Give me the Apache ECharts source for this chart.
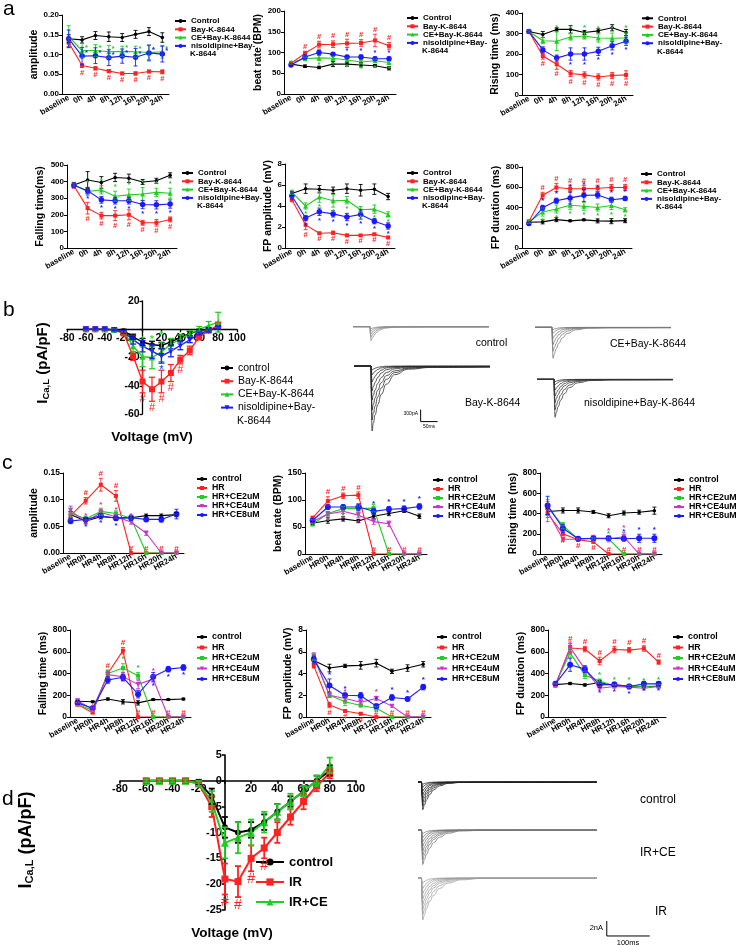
<!DOCTYPE html>
<html><head><meta charset="utf-8"><title>chart</title>
<script src="https://cdn.jsdelivr.net/npm/echarts@6/dist/echarts.min.js"></script>
<style>html,body{margin:0;padding:0;background:#fff;}#chart{width:738px;height:945px;}</style>
</head><body><div id="chart"></div>
<script>
// ================= DATA =================
// ---- panel a ----
const timeA = ['baseline','0h','4h','8h','12h','16h','20h','24h'];
const groupsA = ['Control','Bay-K-8644','CE+Bay-K-8644','nisoldipine+Bay-K-8644'];

const amplitudeA = [
  [0.140,0.137,0.148,0.145,0.143,0.151,0.158,0.143],
  [0.130,0.072,0.065,0.058,0.052,0.052,0.057,0.056],
  [0.145,0.110,0.110,0.107,0.108,0.107,0.105,0.107],
  [0.140,0.096,0.097,0.092,0.096,0.093,0.104,0.101]];
const amplitudeAErr = [
  [0.010,0.008,0.010,0.012,0.010,0.010,0.010,0.012],
  [0.010,0.005,0.004,0.004,0.003,0.004,0.003,0.005],
  [0.028,0.018,0.015,0.016,0.013,0.014,0.018,0.016],
  [0.022,0.022,0.020,0.020,0.018,0.022,0.020,0.020]];
const amplitudeAMarks = ['', ' #######', ' *******', ' *******'];

const beatRateA = [
  [72,67,64,72,72,70,68,62],
  [74,98,119,120,122,123,129,116],
  [76,85,87,86,82,77,80,76],
  [70,89,100,96,89,89,85,85]];
const beatRateAErr = [
  [3,3,3,6,5,5,3,4],
  [3,5,8,8,10,8,15,8],
  [3,4,6,5,4,4,4,3],
  [3,5,6,4,4,5,4,4]];
const beatRateAMarks = ['', ' #######', '  ******', '    ****'];

const risingA = [
  [310,295,320,320,305,313,328,305],
  [310,190,150,105,98,88,95,98],
  [310,265,262,283,288,278,277,278],
  [310,220,180,200,200,213,240,262]];
const risingAErr = [
  [8,15,8,18,10,10,15,15],
  [8,15,25,15,15,15,15,20],
  [8,15,45,15,15,20,25,25],
  [8,15,15,30,30,20,20,20]];
const risingAMarks = ['', ' #######', '  ******', '   *****'];

const fallingA = [
  [380,410,395,425,420,398,405,438],
  [375,240,195,195,200,152,152,172],
  [380,340,350,312,320,325,335,330],
  [378,345,290,285,285,262,260,265]];
const fallingAErr = [
  [15,50,35,25,25,15,15,15],
  [15,35,20,30,30,15,20,15],
  [15,25,25,30,35,40,25,30],
  [15,20,20,20,20,25,25,25]];
const fallingAMarks = ['', ' #######', ' *******', ' *******'];

const fpAmpA = [
  [5.2,5.65,5.6,5.5,5.65,5.5,5.6,4.9],
  [4.6,2.2,1.4,1.45,1.2,1.2,1.3,1.0],
  [5.3,4.0,4.85,4.5,4.55,3.65,3.7,3.2],
  [4.95,2.85,3.45,3.25,2.95,3.2,2.55,2.1]];
const fpAmpAErr = [
  [0.2,0.45,0.35,0.3,0.45,0.55,0.5,0.3],
  [0.2,0.45,0.1,0.15,0.1,0.08,0.1,0.1],
  [0.2,0.3,0.5,0.6,0.35,0.3,0.4,0.25],
  [0.3,0.25,0.35,0.3,0.35,0.45,0.25,0.3]];
const fpAmpAMarks = ['', ' #######', ' *******', ' *******'];

const fpDurA = [
  [255,258,280,268,278,268,265,270],
  [262,520,598,585,585,590,597,598],
  [258,355,385,422,412,400,420,378],
  [242,397,467,495,520,523,477,490]];
const fpDurAErr = [
  [15,20,20,8,8,20,25,20],
  [15,30,40,35,35,30,30,30],
  [15,40,40,40,40,35,40,20],
  [15,25,25,60,60,30,25,20]];
const fpDurAMarks = ['', ' #######', ' *******', ' *******'];

// ---- panel b ----
const voltB = [-60,-50,-40,-30,-20,-10,0,10,20,30,40,50,60,70,80];
const groupsB = ['control','Bay-K-8644','CE+Bay-K-8644','nisoldipine+Bay-K-8644'];
const icaB = [
  [0,0,0,-0.5,-1,-5.5,-9,-11,-11.5,-9,-6,-3,-1,0,1],
  [0,0,0,-0.5,-3,-19,-37,-42.5,-37,-31,-21.5,-15,-5.5,-1,3],
  [0,0,0,-0.5,-2,-12,-19.5,-20,-16,-10.5,-7,-3,0,2.5,5],
  [0,0,0,-0.5,-2,-7.5,-12,-15.5,-19,-15.5,-11.5,-7.5,-3,-1,1]];
const icaBErr = [
  [0.5,0.5,0.5,0.5,1,2,2.5,2.5,2,2,2,1.5,1,1,1],
  [0.5,0.5,0.5,0.5,1,3,8,8.5,8,6,3,3,2,1,2],
  [0.5,0.5,0.5,0.5,1,4,7,8,7,4,3,2,2,3,7],
  [0.5,0.5,0.5,0.5,1,3,4,5,5,4,3,2,1,1,1]];
const icaBMarks = ['', '      #####    ', '      ***      ', '        *      '];

// current traces, panel b (time in ms, current in pA)
const traceTimeB = [0,50,51,53,57,62,70,80,95,120,160,230,400];
const tracesControlB = [
  [0,0,-180,-350,-280,-214,-137,-77,-36,-12,-6,-5,-4],
  [0,0,-140,-260,-203,-148,-91,-47,-19,-8,-5,-4,-3],
  [0,0,-100,-180,-135,-95,-54,-26,-9,-5,-4,-3,-3],
  [0,0,-60,-110,-79,-52,-26,-12,-5,-3,-3,-2,-2],
  [0,0,-30,-50,-36,-24,-12,-6,-3,-2,-2,-1,-1]];
const tracesCEB = [
  [0,0,-400,-775,-660,-545,-400,-270,-155,-62,-20,-12,-10],
  [0,0,-310,-600,-500,-400,-278,-178,-95,-36,-14,-10,-9],
  [0,0,-220,-430,-352,-275,-185,-112,-53,-22,-10,-8,-7],
  [0,0,-145,-280,-224,-171,-109,-62,-29,-12,-7,-6,-5],
  [0,0,-80,-150,-115,-82,-48,-25,-10,-5,-4,-4,-3],
  [0,0,-32,-60,-44,-30,-16,-8,-4,-3,-3,-2,-2]];
const tracesBayB = [
  [0,0,-800,-1625,-1430,-1220,-965,-710,-455,-215,-80,-35,-25],
  [0,0,-680,-1350,-1181,-1000,-770,-553,-333,-165,-58,-28,-22],
  [0,0,-560,-1100,-957,-792,-600,-418,-242,-119,-44,-24,-20],
  [0,0,-430,-850,-723,-595,-434,-289,-162,-68,-25,-18,-16],
  [0,0,-320,-620,-515,-409,-285,-180,-93,-40,-18,-14,-12],
  [0,0,-210,-400,-328,-256,-172,-104,-48,-22,-12,-10,-9],
  [0,0,-115,-220,-176,-134,-86,-48,-23,-10,-7,-6,-5],
  [0,0,-55,-100,-77,-55,-32,-17,-7,-4,-3,-3,-2]];
const tracesNisoB = [
  [0,0,-480,-950,-827,-684,-518,-361,-209,-86,-30,-15,-12],
  [0,0,-390,-760,-646,-532,-388,-258,-144,-52,-20,-12,-10],
  [0,0,-300,-580,-481,-383,-267,-168,-87,-35,-14,-10,-8],
  [0,0,-215,-420,-344,-269,-181,-109,-50,-20,-10,-8,-7],
  [0,0,-140,-270,-216,-165,-105,-59,-26,-10,-6,-5,-4],
  [0,0,-72,-140,-108,-77,-45,-23,-8,-4,-3,-3,-2],
  [0,0,-32,-60,-44,-30,-16,-8,-4,-3,-3,-2,-2]];
const scaleBarB = [[196,-1090],[196,-1390],[246,-1390]]; // 300 pA / 50 ms

// ---- panel c ----
const timeC = ['baseline','HR0h','HR4h','HR8h','HR12h','HR16h','HR20h','HR24h'];
const groupsC = ['control','HR','HR+CE2uM','HR+CE4uM','HR+CE8uM'];

const amplitudeC = [
  [0.072,0.060,0.068,0.066,0.066,0.070,0.070,0.072],
  [0.070,0.098,0.128,0.107,0,0,0,0],
  [0.075,0.064,0.078,0.074,0.065,0,0,0],
  [0.080,0.058,0.076,0.068,0.058,0.037,0,0],
  [0.060,0.063,0.070,0.065,0.066,0.063,0.063,0.073]];
const amplitudeCErr = [
  [0.006,0.004,0.004,0.003,0.003,0.003,0.003,0.004],
  [0.008,0.006,0.012,0.010,0,0,0,0],
  [0.008,0.005,0.006,0.005,0.005,0,0,0],
  [0.008,0.004,0.006,0.004,0.004,0.004,0,0],
  [0.005,0.004,0.004,0.004,0.005,0.004,0.005,0.009]];
const amplitudeCMarks = ['', ' #######', '', ' ****   ', ' ***    '];

const beatRateC = [
  [57,62,65,61,70,75,80,70],
  [67,98,108,109,0,0,0,0],
  [55,75,84,84,85,0,0,0],
  [60,74,79,72,60,56,0,0],
  [62,87,87,87,79,83,84,88]];
const beatRateCErr = [
  [3,5,4,3,4,4,3,4],
  [3,8,5,6,0,0,0,0],
  [3,4,4,5,7,0,0,0],
  [3,4,4,5,5,5,0,0],
  [4,4,4,6,5,5,5,5]];
const beatRateCMarks = ['', ' #######', ' ***    ', ' ***    ', '    ****'];

const risingC = [
  [420,430,430,415,378,405,413,428],
  [400,200,140,120,0,0,0,0],
  [460,280,150,150,150,0,0,0],
  [420,145,145,155,150,170,0,0],
  [480,255,150,155,155,150,155,155]];
const risingCErr = [
  [30,25,25,15,20,20,20,35],
  [40,20,10,10,0,0,0,0],
  [80,30,10,10,10,0,0,0],
  [100,15,10,30,30,40,0,0],
  [90,40,15,20,20,20,40,40]];
const risingCMarks = ['', ' #######', '    *   ', '    **  ', '     ***'];

const fallingC = [
  [145,140,165,140,130,160,160,165],
  [115,40,400,610,0,0,0,0],
  [120,60,400,450,380,0,0,0],
  [150,70,390,370,300,350,0,0],
  [130,80,340,365,210,370,440,455]];
const fallingCErr = [
  [10,8,10,20,20,8,8,8],
  [15,8,30,30,0,0,0,0],
  [15,8,30,40,30,0,0,0],
  [15,10,30,40,40,30,0,0],
  [15,10,30,30,35,40,25,25]];
const fallingCMarks = ['', ' #######', '   **   ', '     *  ', '     ***'];

const fpAmpC = [
  [5.2,4.5,4.7,4.75,4.95,4.2,4.5,4.85],
  [4.7,1.1,0.55,0.3,0,0,0,0],
  [5.5,2.0,1.4,1.05,0.8,0,0,0],
  [5.6,2.0,1.7,1.35,1.7,1.0,0,0],
  [5.3,2.9,2.0,1.95,1.0,1.8,1.65,2.75]];
const fpAmpCErr = [
  [0.3,0.35,0.15,0.35,0.35,0.2,0.3,0.25],
  [0.2,0.25,0.1,0.1,0,0,0,0],
  [0.3,0.2,0.35,0.1,0.15,0,0,0],
  [0.3,0.2,0.2,0.15,0.2,0.1,0,0],
  [0.3,0.6,0.2,0.3,0.2,0.25,0.15,0.25]];
const fpAmpCMarks = ['', ' #######', '', '  * *   ', ' ** ****'];

const fpDurC = [
  [298,308,295,318,290,285,280,280],
  [290,635,625,515,620,615,630,505],
  [300,590,385,330,285,285,280,285],
  [295,640,440,265,280,275,265,280],
  [305,480,440,295,300,280,305,305]];
const fpDurCErr = [
  [10,10,10,15,10,10,10,10],
  [15,40,25,35,30,25,25,20],
  [15,40,30,20,15,15,15,15],
  [15,50,30,15,15,15,15,15],
  [15,60,30,25,20,20,20,20]];
const fpDurCMarks = ['', ' #######', '   *****', '', '   *****'];

// ---- panel d ----
const voltD = [-60,-50,-40,-30,-20,-10,0,10,20,30,40,50,60,70,80];
const groupsD = ['control','IR','IR+CE'];
const icaD = [
  [0,0,0,0,-0.3,-3,-9,-10,-9.5,-8,-6,-4,-2,0,2],
  [0,0,0,0,-0.5,-5,-19,-19.5,-15,-13,-10,-7,-4,-1,1.5],
  [0,0,0,0,-0.5,-4,-12,-11,-10,-8,-6,-4,-2,0,3]];
const icaDErr = [
  [0.3,0.3,0.3,0.3,0.5,1.5,2,2,1.5,1.5,1.5,1,1,1,1],
  [0.3,0.3,0.3,0.3,0.5,2,3,3,2.5,2,2,1.5,1.5,1,1],
  [0.3,0.3,0.3,0.3,0.5,2,3,3,2.5,2,1.5,1.5,1,1,1.5]];
const icaDMarks = ['', '      ####     ', ''];

// current traces, panel d (time in ms, current in nA)
const traceTimeD = [0,8,9,11,15,20,27,36,50,70,100,150,250,416];
const tracesControlD = [
  [0,0,-1.9,-3.7,-3.03,-2.37,-1.67,-1.07,-0.52,-0.19,-0.06,-0.03,-0.02,-0.02],
  [0,0,-1.6,-3.2,-2.56,-1.95,-1.31,-0.8,-0.35,-0.14,-0.04,-0.02,-0.02,-0.02],
  [0,0,-1.4,-2.7,-2.1,-1.54,-1.0,-0.57,-0.25,-0.09,-0.03,-0.02,-0.02,-0.02],
  [0,0,-1.1,-2.2,-1.69,-1.21,-0.75,-0.42,-0.18,-0.06,-0.03,-0.02,-0.02,-0.02],
  [0,0,-0.9,-1.7,-1.26,-0.85,-0.49,-0.26,-0.1,-0.04,-0.02,-0.02,-0.02,-0.02],
  [0,0,-0.6,-1.2,-0.86,-0.56,-0.31,-0.16,-0.06,-0.03,-0.02,-0.02,-0.02,-0.02],
  [0,0,-0.35,-0.7,-0.47,-0.29,-0.14,-0.06,-0.03,-0.02,-0.02,-0.02,-0.02,-0.02],
  [0,0,-0.15,-0.3,-0.2,-0.12,-0.06,-0.03,-0.02,-0.02,-0.02,-0.01,-0.01,-0.01]];
const tracesIRCED = [
  [0,0,-2.3,-4.6,-3.91,-3.22,-2.44,-1.7,-0.97,-0.43,-0.13,-0.04,-0.03,-0.03],
  [0,0,-2.0,-4.0,-3.32,-2.64,-1.92,-1.28,-0.68,-0.27,-0.07,-0.03,-0.03,-0.03],
  [0,0,-1.7,-3.4,-2.79,-2.18,-1.53,-0.99,-0.48,-0.18,-0.05,-0.03,-0.02,-0.02],
  [0,0,-1.4,-2.8,-2.24,-1.71,-1.15,-0.7,-0.31,-0.11,-0.04,-0.02,-0.02,-0.02],
  [0,0,-1.1,-2.2,-1.69,-1.21,-0.75,-0.42,-0.16,-0.06,-0.03,-0.02,-0.02,-0.02],
  [0,0,-0.8,-1.6,-1.18,-0.8,-0.46,-0.23,-0.08,-0.03,-0.02,-0.02,-0.02,-0.02],
  [0,0,-0.5,-1.0,-0.72,-0.47,-0.26,-0.13,-0.05,-0.02,-0.02,-0.02,-0.02,-0.02],
  [0,0,-0.25,-0.5,-0.34,-0.2,-0.1,-0.05,-0.02,-0.02,-0.01,-0.01,-0.01,-0.01]];
const tracesIRD = [
  [0,0,-2.8,-5.6,-4.87,-4.03,-3.14,-2.3,-1.4,-0.67,-0.24,-0.06,-0.04,-0.04],
  [0,0,-2.5,-4.9,-4.17,-3.43,-2.6,-1.81,-1.03,-0.46,-0.14,-0.04,-0.03,-0.03],
  [0,0,-2.1,-4.2,-3.49,-2.77,-2.02,-1.34,-0.71,-0.29,-0.07,-0.03,-0.03,-0.03],
  [0,0,-1.8,-3.5,-2.87,-2.24,-1.58,-1.02,-0.49,-0.18,-0.05,-0.03,-0.02,-0.02],
  [0,0,-1.4,-2.8,-2.24,-1.71,-1.15,-0.7,-0.31,-0.11,-0.04,-0.02,-0.02,-0.02],
  [0,0,-1.05,-2.1,-1.62,-1.16,-0.71,-0.4,-0.16,-0.05,-0.03,-0.02,-0.02,-0.02],
  [0,0,-0.7,-1.4,-1.04,-0.7,-0.41,-0.2,-0.07,-0.03,-0.02,-0.02,-0.02,-0.02],
  [0,0,-0.35,-0.7,-0.47,-0.29,-0.14,-0.06,-0.03,-0.02,-0.02,-0.02,-0.02,-0.02]];
const scaleBarD = [[439,-5.73],[439,-7.73],[539,-7.73]]; // 2 nA / 100 ms

// ================= STYLE / BUILD =================
const FONT = "'Liberation Sans', Arial, Helvetica, sans-serif";
const BLACK = '#000000', RED = '#ff2222', GREEN = '#22cc22', BLUE = '#1a1aff', PURPLE = '#cc33cc';
const stylesA = [
  {color: BLACK, symbol: 'circle', size: 3.5},
  {color: RED, symbol: 'rect', size: 4},
  {color: GREEN, symbol: 'triangle', size: 5},
  {color: BLUE, symbol: 'circle', size: 5.5}];
const stylesC = [
  {color: BLACK, symbol: 'circle', size: 3.5},
  {color: RED, symbol: 'rect', size: 4},
  {color: GREEN, symbol: 'rect', size: 4},
  {color: PURPLE, symbol: 'triangle', size: 5, rot: 180},
  {color: BLUE, symbol: 'circle', size: 6}];

const option = {animation: false, backgroundColor: '#fff', textStyle: {fontFamily: FONT},
  grid: [], xAxis: [], yAxis: [], series: [], legend: [], graphic: []};

function pushGrid(g) {
  g.containLabel = false;
  g.outerBoundsMode = 'none';
  option.grid.push(g);
}

function gtext(x, y, s, fs, weight, align, color) {
  option.graphic.push({type: 'text', x: x, y: y, silent: true, z: 50,
    style: {text: s, font: (weight || 'normal') + ' ' + fs + 'px ' + FONT, fill: color || '#000',
      textAlign: align || 'left', textVerticalAlign: 'middle', align: align || 'left', verticalAlign: 'middle'}});
}

function gIcaTitle(x, y, fs, fsSub) {
  option.graphic.push({type: 'text', x: x, y: y, rotation: Math.PI / 2, silent: true, z: 50,
    style: {text: '{i|I}{s|Ca,L}{i| (pA/pF)}', fill: '#000',
      font: 'bold ' + fs + 'px ' + FONT,
      textAlign: 'center', textVerticalAlign: 'middle', align: 'center', verticalAlign: 'middle',
      rich: {
        i: {fontSize: fs, fontWeight: 'bold', fontFamily: FONT, fill: '#000', color: '#000'},
        s: {fontSize: fsSub, fontWeight: 'bold', fontFamily: FONT, fill: '#000', color: '#000',
          verticalAlign: 'bottom', padding: [fs * 0.45, 0, 0, 0]}}}});
}

function errSeries(gi, pts, color, cap, lw) {
  return {type: 'custom', xAxisIndex: gi, yAxisIndex: gi, silent: true, z: 4, clip: false,
    data: pts, encode: {x: 0, y: 1},
    renderItem: function (params, api) {
      const x = api.value(0), v = api.value(1), e = api.value(2);
      if (!e) return null;
      const t = api.coord([x, v + e]), b = api.coord([x, v - e]);
      const st = {stroke: color, lineWidth: lw};
      return {type: 'group', children: [
        {type: 'line', shape: {x1: t[0], y1: t[1], x2: b[0], y2: b[1]}, style: st},
        {type: 'line', shape: {x1: t[0] - cap, y1: t[1], x2: t[0] + cap, y2: t[1]}, style: st},
        {type: 'line', shape: {x1: b[0] - cap, y1: b[1], x2: b[0] + cap, y2: b[1]}, style: st}]};
    }};
}

function markSeries(gi, pts, marks, pos, color, fs, weight) {
  return {type: 'custom', xAxisIndex: gi, yAxisIndex: gi, silent: true, z: 6, clip: false,
    data: pts, encode: {x: 0, y: 1},
    renderItem: function (params, api) {
      const m = marks.charAt(params.dataIndex);
      if (!m || m === ' ') return null;
      const x = api.value(0), v = api.value(1), e = api.value(2);
      let P = pos, p, va, al = 'center';
      if (P === 'b' && v === 0) P = 'a';
      if (P === 'b') { p = api.coord([x, v - e]); p[1] += 1; va = 'top'; }
      else if (P === 'a') { p = api.coord([x, v + e]); p[1] -= 0.5; va = 'bottom'; }
      else { p = api.coord([x, v]); p[0] += 3; p[1] -= 3; al = 'left'; va = 'middle'; }
      return {type: 'text', x: p[0], y: p[1], style: {text: m, fill: color,
        font: (weight || 'bold') + ' ' + fs + 'px ' + FONT,
        textAlign: al, textVerticalAlign: va, align: al, verticalAlign: va}};
    }};
}

function addCat(c) {
  const gi = option.grid.length;
  pushGrid({left: c.left, top: c.top, width: c.width, height: c.height});
  option.xAxis.push({type: 'category', gridIndex: gi, data: c.cats, boundaryGap: true,
    axisLine: {lineStyle: {color: '#000', width: 1}},
    axisTick: {alignWithLabel: true, length: 3, lineStyle: {color: '#000', width: 1}},
    axisLabel: {interval: 0, rotate: c.rot, margin: 3, fontSize: c.fsX, fontWeight: 'bold', color: '#000', fontFamily: FONT}});
  option.yAxis.push({type: 'value', gridIndex: gi, min: c.min, max: c.max, interval: c.step,
    splitLine: {show: false},
    axisLine: {show: true, onZero: false, lineStyle: {color: '#000', width: 1}},
    axisTick: {show: true, length: 3, lineStyle: {color: '#000', width: 1}},
    axisLabel: {formatter: c.fmt, margin: 3, fontSize: c.fsY, fontWeight: 'bold', color: '#000', fontFamily: FONT},
    name: c.title, nameLocation: 'middle', nameRotate: 90, nameGap: c.gap,
    nameTextStyle: {fontSize: c.fsT, fontWeight: 'bold', color: '#000', fontFamily: FONT}});
  const names = [], disp = {};
  c.groups.forEach(function (g, k) {
    const nm = g + '@' + gi;
    names.push(nm);
    disp[nm] = c.display[k];
    const st = c.styles[k];
    const vals = c.values[k], errs = c.errors[k];
    const pts = vals.map(function (v, i) { return [i, v, errs[i]]; });
    option.series.push({type: 'line', name: nm, xAxisIndex: gi, yAxisIndex: gi, data: vals,
      symbol: st.symbol, symbolSize: st.size, symbolRotate: st.rot || 0, showAllSymbol: true,
      lineStyle: {color: st.color, width: 1.1}, itemStyle: {color: st.color}, z: 3, silent: true});
    option.series.push(errSeries(gi, pts, st.color, 2, 0.9));
    if (c.marks && c.marks[k]) option.series.push(markSeries(gi, pts, c.marks[k], c.mpos[k], st.color, c.markFs));
  });
  const L = c.lg;
  option.legend.push({orient: 'vertical', left: L.left, top: L.top, padding: 0, itemGap: L.gap,
    itemWidth: L.iw, itemHeight: L.ih, selectedMode: false, data: names,
    formatter: function (n) { return disp[n]; },
    textStyle: {fontSize: L.fs, lineHeight: L.lh, fontWeight: 'bold', color: '#000', fontFamily: FONT}});
  if (c.cont) {
    const y = L.top + L.lh / 2 + (c.groups.length) * (L.lh + L.gap);
    gtext(L.left + L.iw + 5, y, c.cont, L.fs, 'bold');
  }
}

function addTraces(c) {
  const gi = option.grid.length;
  pushGrid({left: c.left, top: c.top, width: c.width, height: c.height});
  option.xAxis.push({type: 'value', gridIndex: gi, min: 0, max: c.xmax, show: false});
  option.yAxis.push({type: 'value', gridIndex: gi, min: c.ymin, max: c.ymax, show: false});
  c.curves.forEach(function (cv) {
    option.series.push({type: 'line', xAxisIndex: gi, yAxisIndex: gi, silent: true, z: 2,
      data: c.time.map(function (t, i) { return [t, cv[i]]; }), showSymbol: false, symbol: 'none',
      smooth: 0.5, smoothMonotone: 'x', lineStyle: {color: c.color, width: c.lw}});
  });
  if (c.bar) {
    option.series.push({type: 'line', xAxisIndex: gi, yAxisIndex: gi, silent: true, z: 2,
      data: c.bar, showSymbol: false, symbol: 'none', lineStyle: {color: '#000', width: 1}});
  }
}

function addIV(c) {
  const gi = option.grid.length;
  pushGrid({left: c.left, top: c.top, width: c.width, height: c.height});
  const ax = {color: '#000', width: c.alw};
  // put both axes through the origin by shifting them inwards from the grid edges
  const xShift = c.height * (0 - c.ymin) / (c.ymax - c.ymin);
  const yShift = c.width * (0 - c.xmin) / (c.xmax - c.xmin);
  option.xAxis.push({type: 'value', gridIndex: gi, min: c.xmin, max: c.xmax, interval: c.xstep,
    position: 'bottom', offset: -xShift,
    splitLine: {show: false}, axisLine: {onZero: false, lineStyle: ax},
    axisTick: {show: true, length: 3, lineStyle: ax},
    axisLabel: {formatter: function (v) { return v === 0 ? '' : String(v); }, margin: 3, fontSize: c.fsX,
      fontWeight: 'bold', color: '#000', fontFamily: FONT}});
  option.yAxis.push({type: 'value', gridIndex: gi, min: c.ymin, max: c.ymax, interval: c.ystep,
    position: 'left', offset: -yShift,
    splitLine: {show: false}, axisLine: {show: true, onZero: false, lineStyle: ax},
    axisTick: {show: true, length: 3, lineStyle: ax},
    axisLabel: {formatter: c.yfmt, margin: 3, fontSize: c.fsY, fontWeight: 'bold', color: '#000', fontFamily: FONT}});
  const names = [], disp = {};
  c.groups.forEach(function (g, k) {
    const nm = g + '@' + gi;
    names.push(nm);
    disp[nm] = c.display[k];
    const st = c.styles[k];
    const vals = c.values[k], errs = c.errors[k];
    const pts = c.volt.map(function (v, i) { return [v, vals[i], errs[i]]; });
    option.series.push({type: 'line', name: nm, xAxisIndex: gi, yAxisIndex: gi,
      data: c.volt.map(function (v, i) { return [v, vals[i]]; }),
      symbol: st.symbol, symbolSize: st.size, symbolRotate: st.rot || 0, showAllSymbol: true,
      lineStyle: {color: st.color, width: c.lw}, itemStyle: {color: st.color}, z: 3, silent: true});
    option.series.push(errSeries(gi, pts, st.color, 3, c.lw * 0.9));
    if (c.marks && c.marks[k]) option.series.push(markSeries(gi, pts, c.marks[k], c.mpos[k], st.color, c.markFs, 'normal'));
  });
  const L = c.lg;
  option.legend.push({orient: 'vertical', left: L.left, top: L.top, padding: 0, itemGap: L.gap,
    itemWidth: L.iw, itemHeight: L.ih, selectedMode: false, data: names,
    formatter: function (n) { return disp[n]; },
    textStyle: {fontSize: L.fs, lineHeight: L.lh, fontWeight: L.fw, color: '#000', fontFamily: FONT}});
  if (c.cont) {
    const y = L.top + L.lh / 2 + (c.groups.length) * (L.lh + L.gap);
    gtext(L.left + L.iw + 5, y, c.cont, L.fs, L.fw);
  }
  gtext(c.xt[0], c.xt[1], 'Voltage (mV)', c.fsXT, 'bold', 'center');
  gIcaTitle(c.yt[0], c.yt[1], c.fsYT, c.fsSub);
}

// ---------- panel a ----------
const dispA = ['Control', 'Bay-K-8644', 'CE+Bay-K-8644', 'nisoldipine+Bay-'];
const dispA5 = ['Control', 'Bay-K-8644', 'CE+Bay-K-8644', 'nisodipine+Bay-'];
const mposA = {
  amp: ['', 'b', 'r', 'r'], rate: ['', 'a', 'b', 'a'], rise: ['', 'b', 'a', 'b'],
  fall: ['', 'b', 'a', 'b'], fpamp: ['', 'b', 'b', 'b'], fpdur: ['', 'a', 'b', 'a']};
function aCfg(extra) {
  return Object.assign({cats: timeA, groups: groupsA, styles: stylesA, display: dispA, cont: 'K-8644',
    rot: 30, fsX: 8, fsY: 8, fsT: 10.5, markFs: 7.5, min: 0}, extra);
}
function lgA(left, firstY) { return {left: left, top: firstY - 4.15, gap: 0, iw: 11, ih: 5, fs: 8, lh: 8.3}; }

addCat(aCfg({left: 62, top: 15, width: 107, height: 79, max: 0.20, step: 0.05, fmt: function (v) { return v.toFixed(2); },
  title: 'amplitude', gap: 21, values: amplitudeA, errors: amplitudeAErr, marks: amplitudeAMarks, mpos: mposA.amp, lg: lgA(174, 21)}));
addCat(aCfg({left: 284, top: 11, width: 112, height: 83, max: 200, step: 50,
  title: 'beat rate (BPM)', gap: 20, values: beatRateA, errors: beatRateAErr, marks: beatRateAMarks, mpos: mposA.rate, lg: lgA(406, 18)}));
addCat(aCfg({left: 522, top: 13, width: 111, height: 82, max: 400, step: 100,
  title: 'Rising time (ms)', gap: 21, values: risingA, errors: risingAErr, marks: risingAMarks, mpos: mposA.rise, lg: lgA(641, 18.3)}));
addCat(aCfg({left: 67, top: 165, width: 110, height: 83, max: 500, step: 100,
  title: 'Falling time(ms)', gap: 21, values: fallingA, errors: fallingAErr, marks: fallingAMarks, mpos: mposA.fall, lg: lgA(181, 173)}));
addCat(aCfg({left: 285, top: 164, width: 110, height: 84, max: 8, step: 2, display: dispA5,
  title: 'FP amplitude (mV)', gap: 11, values: fpAmpA, errors: fpAmpAErr, marks: fpAmpAMarks, mpos: mposA.fpamp, lg: lgA(406, 173)}));
addCat(aCfg({left: 522, top: 167, width: 110, height: 81, max: 800, step: 200,
  title: 'FP duration (ms)', gap: 19, values: fpDurA, errors: fpDurAErr, marks: fpDurAMarks, mpos: mposA.fpdur, lg: lgA(640, 174)}));

// ---------- panel b ----------
addIV({left: 67, top: 301, width: 170, height: 113, xmin: -80, xmax: 100, xstep: 20, ymin: -60, ymax: 20, ystep: 20,
  yfmt: function (v) { return v === 0 ? '' : String(v); }, alw: 1.3, lw: 1.4, fsX: 10.5, fsY: 10.5,
  fsXT: 13.5, xt: [152, 437], fsYT: 15, fsSub: 9.5, yt: [43, 363],
  volt: voltB, groups: groupsB, values: icaB, errors: icaBErr,
  display: ['control', 'Bay-K-8644', 'CE+Bay-K-8644', 'nisoldipine+Bay-'], cont: 'K-8644',
  styles: [{color: BLACK, symbol: 'circle', size: 5}, {color: RED, symbol: 'rect', size: 6},
    {color: GREEN, symbol: 'triangle', size: 6}, {color: BLUE, symbol: 'triangle', size: 6, rot: 180}],
  marks: icaBMarks, mpos: ['', 'b', 'a', 'b'], markFs: 11,
  lg: {left: 220, top: 361.5, gap: 0.2, iw: 12, ih: 6, fs: 10.5, lh: 13, fw: 'normal'}});

addTraces({left: 353, top: 322.7, width: 136, height: 76, xmax: 400, ymin: -1800, ymax: 100, time: traceTimeB, curves: tracesControlB, color: '#8a8a8a', lw: 0.8});
addTraces({left: 535, top: 323.3, width: 136, height: 76, xmax: 400, ymin: -1800, ymax: 100, time: traceTimeB, curves: tracesCEB, color: '#7a7a7a', lw: 0.8});
addTraces({left: 354, top: 362, width: 136, height: 76, xmax: 400, ymin: -1800, ymax: 100, time: traceTimeB, curves: tracesBayB, color: '#2a2a2a', lw: 0.8, bar: scaleBarB});
addTraces({left: 537, top: 375.3, width: 136, height: 76, xmax: 400, ymin: -1800, ymax: 100, time: traceTimeB, curves: tracesNisoB, color: '#333333', lw: 0.8});

// ---------- panel c ----------
function cCfg(extra) {
  return Object.assign({cats: timeC, groups: groupsC, styles: stylesC, display: groupsC,
    rot: 30, fsX: 8, fsY: 8.5, fsT: 10.5, markFs: 8, min: 0}, extra);
}
function lgC(left, firstY, lh) { return {left: left, top: firstY - lh / 2, gap: 0, iw: 10, ih: 5, fs: 8.8, lh: lh}; }

addCat(cCfg({left: 63, top: 473, width: 121, height: 80, max: 0.15, step: 0.05, fmt: function (v) { return v.toFixed(2); },
  title: 'amplitude', gap: 22, values: amplitudeC, errors: amplitudeCErr, marks: amplitudeCMarks, mpos: ['', 'a', 'a', 'a', 'b'], lg: lgC(196, 479, 9)}));
addCat(cCfg({left: 305, top: 473, width: 122, height: 81, max: 150, step: 50,
  title: 'beat rate (BPM)', gap: 21, values: beatRateC, errors: beatRateCErr, marks: beatRateCMarks, mpos: ['', 'a', 'b', 'b', 'a'], lg: lgC(432, 480, 9)}));
addCat(cCfg({left: 540, top: 473, width: 122, height: 81, max: 800, step: 200,
  title: 'Rising time (ms)', gap: 21, values: risingC, errors: risingCErr, marks: risingCMarks, mpos: ['', 'b', 'a', 'a', 'a'], lg: lgC(673, 480, 9)}));
addCat(cCfg({left: 70, top: 630, width: 121, height: 87, max: 800, step: 200,
  title: 'Falling time (ms)', gap: 21, values: fallingC, errors: fallingCErr, marks: fallingCMarks, mpos: ['', 'a', 'a', 'a', 'b'], lg: lgC(196, 637, 10.5)}));
addCat(cCfg({left: 306, top: 630, width: 125, height: 87, max: 8, step: 2,
  title: 'FP amplitude (mV)', gap: 12, values: fpAmpC, errors: fpAmpCErr, marks: fpAmpCMarks, mpos: ['', 'b', 'a', 'a', 'a'], lg: lgC(436, 637, 10.5)}));
addCat(cCfg({left: 548, top: 630, width: 118, height: 87, max: 800, step: 200,
  title: 'FP duration (ms)', gap: 21, values: fpDurC, errors: fpDurCErr, marks: fpDurCMarks, mpos: ['', 'a', 'a', 'a', 'b'], lg: lgC(672, 637, 10.5)}));

// ---------- panel d ----------
addIV({left: 120, top: 755, width: 236, height: 155, xmin: -80, xmax: 100, xstep: 20, ymin: -25, ymax: 5, ystep: 5,
  yfmt: function (v) { return String(v); }, alw: 1.6, lw: 2, fsX: 11, fsY: 11,
  fsXT: 13.5, xt: [232, 933], fsYT: 18, fsSub: 11, yt: [26, 840],
  volt: voltD, groups: groupsD, values: icaD, errors: icaDErr,
  display: groupsD,
  styles: [{color: BLACK, symbol: 'circle', size: 6}, {color: RED, symbol: 'rect', size: 7},
    {color: GREEN, symbol: 'triangle', size: 8}],
  marks: icaDMarks, mpos: ['', 'b', ''], markFs: 14,
  lg: {left: 255, top: 855, gap: 6, iw: 28, ih: 9, fs: 13, lh: 14, fw: 'bold'}});

addTraces({left: 418, top: 778.25, width: 240.8, height: 48.75, xmax: 560, ymin: -6, ymax: 0.5, time: traceTimeD, curves: tracesControlD, color: '#222222', lw: 0.8});
addTraces({left: 418, top: 826.25, width: 240.8, height: 48.75, xmax: 560, ymin: -6, ymax: 0.5, time: traceTimeD, curves: tracesIRCED, color: '#777777', lw: 0.8});
addTraces({left: 418, top: 874.25, width: 240.8, height: 63.75, xmax: 560, ymin: -8, ymax: 0.5, time: traceTimeD, curves: tracesIRD, color: '#a0a0a0', lw: 0.8, bar: scaleBarD});

// ---------- free texts ----------
gtext(3, 9, 'a', 21);
gtext(3, 310, 'b', 21);
gtext(2, 463, 'c', 21);
gtext(2, 799, 'd', 21);
gtext(475.7, 343, 'control', 10.5);
gtext(610, 344, 'CE+Bay-K-8644', 10.5);
gtext(465, 403, 'Bay-K-8644', 10.5);
gtext(584, 402.7, 'nisoldipine+Bay-K-8644', 10.5);
gtext(418, 414, '300pA', 5, 'normal', 'right');
gtext(429, 427, '50ms', 5, 'normal', 'center');
gtext(640, 800, 'control', 12);
gtext(640, 853, 'IR+CE', 12);
gtext(655, 912, 'IR', 12);
gtext(603, 928, '2nA', 7.5, 'normal', 'right');
gtext(628, 943, '100ms', 7.5, 'normal', 'center');

const chart = echarts.init(document.getElementById('chart'), null, {renderer: 'canvas', width: 738, height: 945});
chart.setOption(option);
</script></body></html>
